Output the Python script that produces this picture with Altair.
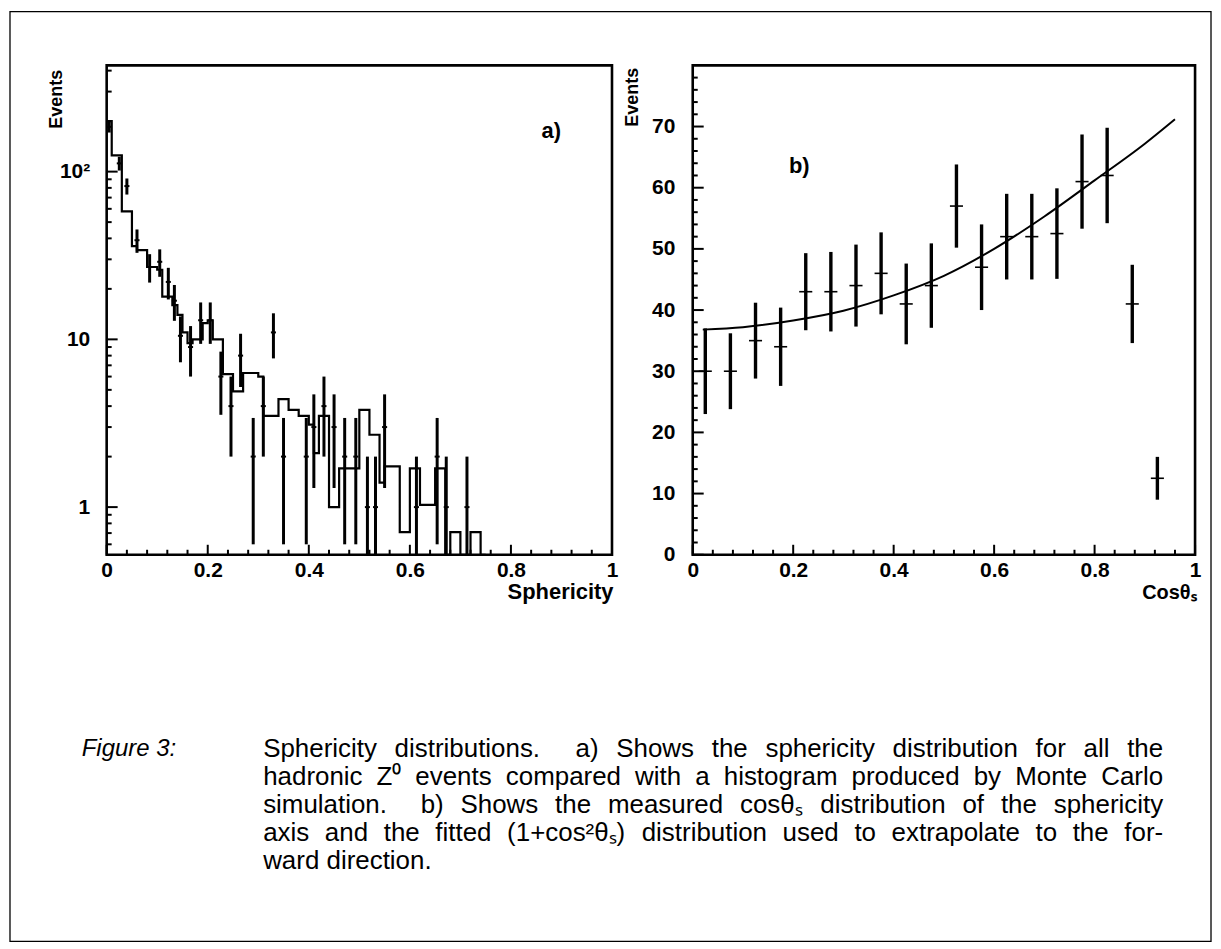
import re
import altair as alt
import pandas as pd

# ---------------- Panel a: sphericity ----------------
# Monte Carlo histogram, bin width 0.01 starting at 0
MC_BIN_WIDTH = 0.01
MC_COUNTS = [200, 125, 125, 58, 58, 36, 34, 34, 27, 27,
             26, 18, 18, 16, 14, 11, 9.5, 10, 10, 12.5,
             13, 10, 10, 6.2, 6.2, 4.9, 4.9, 6.3, 6.3, 6.3,
             6.0, 3.5, 3.5, 3.5, 4.4, 4.4, 3.8, 3.8, 3.5, 3.5,
             3.1, 2.1, 3.5, 3.5, 1.0, 1.0, 1.7, 1.7, 1.7, 1.7,
             3.8, 3.8, 2.7, 2.7, 1.4, 1.75, 1.75, 1.75, 0.71, 0.71,
             1.7, 1.7, 1.03, 1.03, 1.03, 1.7, 1.7, 0, 0.71, 0.71,
             0, 0, 0.71, 0.71, 0]

# measured points (sphericity, events, error)
SPH_X = [0.005, 0.025, 0.04, 0.06, 0.085, 0.105, 0.122, 0.134, 0.146, 0.166,
         0.186, 0.205, 0.226, 0.246, 0.265, 0.29, 0.31, 0.33, 0.35, 0.395,
         0.41, 0.43, 0.45, 0.471, 0.493, 0.516, 0.532, 0.55, 0.613, 0.654,
         0.672, 0.713]
SPH_N = [185, 112, 82, 39, 27, 29, 22, 17, 10.5, 9,
         13, 13, 6, 4, 8, 2, 4, 11, 2, 2,
         3, 4, 3, 2, 2, 1, 1, 3, 1, 2,
         1, 1]
SPH_ERR = [14, 10.5, 9, 6.2, 5.2, 5.4, 4.7, 4.1, 3.2, 3.0,
           3.6, 3.6, 2.45, 2.0, 2.8, 1.4, 2.0, 3.3, 1.4, 1.4,
           1.7, 2.0, 1.7, 1.4, 1.4, 1.0, 1.0, 1.7, 1.0, 1.4,
           1.0, 1.0]

# ---------------- Panel b: cos(theta_s) ----------------
COS_X = [0.025, 0.075, 0.125, 0.175, 0.225, 0.275, 0.325, 0.375, 0.425, 0.475,
         0.525, 0.575, 0.625, 0.675, 0.725, 0.775, 0.825, 0.875, 0.925]
COS_N = [30, 30, 35, 34, 43, 43, 44, 46, 41, 44,
         57, 47, 52, 52, 52.5, 61, 62, 41, 12.5]
COS_ERR = [7.0, 6.2, 6.2, 6.4, 6.3, 6.5, 6.7, 6.7, 6.6, 6.9,
           6.8, 7.0, 7.0, 7.0, 7.4, 7.7, 7.8, 6.4, 3.5]

# fitted (1 + cos^2) curve
FIT_X = [0.02, 0.1, 0.2, 0.3, 0.4, 0.5, 0.6, 0.7, 0.8, 0.9, 0.96]
FIT_Y = [36.8, 37.2, 38.3, 39.9, 42.4, 45.6, 50.0, 55.3, 61.2, 67.2, 71.2]

# axis tick values
X_MAJOR = [0, 0.2, 0.4, 0.6, 0.8, 1]
X_MINOR = [0.04, 0.08, 0.12, 0.16, 0.24, 0.28, 0.32, 0.36, 0.44, 0.48, 0.52, 0.56,
           0.64, 0.68, 0.72, 0.76, 0.84, 0.88, 0.92, 0.96]
YA_MAJOR = [1, 10, 100]
YA_MINOR = [0.6, 0.7, 0.8, 0.9, 2, 3, 4, 5, 6, 7, 8, 9,
            20, 30, 40, 50, 60, 70, 80, 90, 200, 300, 400]
YB_MAJOR = [0, 10, 20, 30, 40, 50, 60, 70]
YB_MINOR = [2, 4, 6, 8, 12, 14, 16, 18, 22, 24, 26, 28, 32, 34, 36, 38, 42, 44, 46, 48,
            52, 54, 56, 58, 62, 64, 66, 68, 72, 74, 76, 78]

CAPTION_LABEL = "Figure 3:"
CAPTION_LINES = [
    "Sphericity distributions.  a) Shows the sphericity distribution for all the",
    "hadronic Z\u2070 events compared with a histogram produced by Monte Carlo",
    "simulation.  b) Shows the measured cos\u03b8\u209b distribution of the sphericity",
    "axis and the fitted (1+cos\u00b2\u03b8\u209b) distribution used to extrapolate to the for-",
    "ward direction.",
]
CAPTION_JUSTIFY = [True, True, True, True, False]

# ---------------- layout ----------------
FONT = "Liberation Sans"
W_A, W_B, H = 507, 504, 491
GAP = 81
YMIN_A, YMAX_A = 0.52, 430
YMAX_B = 80

CAP_FS = 26
CAP_LEFT, CAP_RIGHT = 157, 1060     # relative to panel a origin
CAP_TOP, CAP_LEAD = 686, 28
CHAR_W = {' ': 278, 'a': 556, 'b': 556, 'c': 500, 'd': 556, 'e': 556, 'f': 278, 'g': 556,
          'h': 556, 'i': 222, 'j': 222, 'k': 500, 'l': 222, 'm': 833, 'n': 556, 'o': 556,
          'p': 556, 'q': 556, 'r': 333, 's': 500, 't': 278, 'u': 556, 'v': 500, 'w': 722,
          'x': 500, 'y': 500, 'z': 500, 'S': 667, 'Z': 611, 'M': 833, 'C': 722, 'F': 611,
          '.': 278, ')': 333, '(': 333, '1': 556, '+': 584, '\u00b2': 333, '\u03b8': 556,
          '\u209b': 340, '\u2070': 340, '-': 333, ':': 278, '3': 556}


def text_width(s, size):
    return sum(CHAR_W.get(ch, 556) for ch in s) * size / 1000.0


cap_rows = []
for i, (line, just) in enumerate(zip(CAPTION_LINES, CAPTION_JUSTIFY)):
    parts = re.split(r'( +)', line)
    words = parts[0::2]
    gaps = [len(g) for g in parts[1::2]]
    natural = sum(text_width(w, CAP_FS) for w in words)
    if just and gaps:
        unit = (CAP_RIGHT - CAP_LEFT - natural) / sum(gaps)
    else:
        unit = CHAR_W[' '] * CAP_FS / 1000.0
    x = CAP_LEFT
    for j, w in enumerate(words):
        cap_rows.append({'px': x, 'py': CAP_TOP + i * CAP_LEAD, 'w': w})
        x += text_width(w, CAP_FS) + (gaps[j] * unit if j < len(gaps) else 0)
cap_df = pd.DataFrame(cap_rows)

# ---------------- data frames ----------------
mc_x = [round(i * MC_BIN_WIDTH, 3) for i in range(len(MC_COUNTS) + 1)]
mc_y = [max(c, YMIN_A) for c in MC_COUNTS] + [YMIN_A]
mc_df = pd.DataFrame({'x': mc_x, 'y': mc_y})

pa = pd.DataFrame({'x': SPH_X, 'n': SPH_N, 'e': SPH_ERR})
pa['lo'] = [max(n - e, YMIN_A) for n, e in zip(pa['n'], pa['e'])]
pa['hi'] = pa['n'] + pa['e']
pa['xl'] = pa['x'] - 0.005
pa['xr'] = pa['x'] + 0.005

pb = pd.DataFrame({'x': COS_X, 'n': COS_N, 'e': COS_ERR})
pb['lo'] = pb['n'] - pb['e']
pb['hi'] = pb['n'] + pb['e']
pb['xl'] = pb['x'] - 0.013
pb['xr'] = pb['x'] + 0.013

fit_df = pd.DataFrame({'x': FIT_X, 'y': FIT_Y})

# ---------------- scales & axes ----------------
x_scale = alt.Scale(domain=[0, 1], nice=False, zero=False)
ya_scale = alt.Scale(type='log', domain=[YMIN_A, YMAX_A], nice=False)
yb_scale = alt.Scale(domain=[0, YMAX_B], nice=False, zero=True)

LABEL_STYLE = dict(labelFont=FONT, labelFontSize=21, labelFontWeight='bold',
                   labelColor='black', labelOverlap=False, ticks=False,
                   domain=False, grid=False)
TITLE_STYLE = dict(titleFont=FONT, titleFontWeight='bold', titleColor='black')


def x_axis(title, width, size):
    return alt.Axis(values=X_MAJOR,
                    labelExpr="datum.value == 0 ? '0' : datum.value == 1 ? '1' : format(datum.value, '.1f')",
                    labelPadding=5, labelFlush=False,
                    title=title, titleFontSize=size, titleAlign='right', titleAnchor='end',
                    titleX=width + 1, titleY=44, titleBaseline='alphabetic',
                    **LABEL_STYLE, **TITLE_STYLE)


ax_xa = x_axis('Sphericity', W_A, 22)
ax_xb = x_axis('Cos\u03b8\u209b', W_B, 20)
ax_ya = alt.Axis(values=YA_MAJOR,
                 labelExpr="datum.value >= 100 ? '10\u00b2' : format(datum.value, 'd')",
                 labelPadding=17, title='Events', titleFontSize=18, titleAngle=270,
                 titleAlign='right', titleBaseline='alphabetic', titleX=-45, titleY=4,
                 **LABEL_STYLE, **TITLE_STYLE)
ax_yb = alt.Axis(values=YB_MAJOR, labelPadding=18, title='Events', titleFontSize=18,
                 titleAngle=270, titleAlign='right', titleBaseline='alphabetic',
                 titleX=-55, titleY=2, **LABEL_STYLE, **TITLE_STYLE)


def ticks_x(values, length, ax):
    return alt.Chart(pd.DataFrame({'v': values})).mark_rule(color='black', strokeWidth=2).encode(
        x=alt.X('v:Q', scale=x_scale, axis=ax), y=alt.value(H), y2=alt.value(H - length))


def ticks_y(values, length, scale, ax):
    return alt.Chart(pd.DataFrame({'v': values})).mark_rule(color='black', strokeWidth=2).encode(
        y=alt.Y('v:Q', scale=scale, axis=ax), x=alt.value(0), x2=alt.value(length))


# ---------------- panel a ----------------
a_hist = alt.Chart(mc_df).mark_line(interpolate='step-after', color='black', strokeWidth=2.2).encode(
    x=alt.X('x:Q', scale=x_scale, axis=ax_xa), y=alt.Y('y:Q', scale=ya_scale, axis=ax_ya))
a_err = alt.Chart(pa).mark_rule(color='black', strokeWidth=3).encode(
    x=alt.X('x:Q', scale=x_scale, axis=ax_xa), y=alt.Y('lo:Q', scale=ya_scale, axis=ax_ya), y2='hi:Q')
a_cen = alt.Chart(pa).mark_rule(color='black', strokeWidth=2).encode(
    x=alt.X('xl:Q', scale=x_scale, axis=ax_xa), x2='xr:Q', y=alt.Y('n:Q', scale=ya_scale, axis=ax_ya))
a_lab = alt.Chart(pd.DataFrame({'x': [0.88], 'y': [175], 't': ['a)']})).mark_text(
    font=FONT, fontSize=22, fontWeight='bold', color='black').encode(
    x=alt.X('x:Q', scale=x_scale, axis=ax_xa), y=alt.Y('y:Q', scale=ya_scale, axis=ax_ya), text='t:N')

cap_words = alt.Chart(cap_df).mark_text(font=FONT, fontSize=CAP_FS, align='left', baseline='middle',
                                        color='black').encode(
    x=alt.X('px:Q', scale=None, axis=None), y=alt.Y('py:Q', scale=None, axis=None), text='w:N')
cap_label = alt.Chart(pd.DataFrame({'t': [CAPTION_LABEL]})).mark_text(
    font=FONT, fontSize=24, fontStyle='italic', align='left', baseline='middle', color='black').encode(
    x=alt.value(-25), y=alt.value(CAP_TOP), text='t:N')
outer = alt.Chart(pd.DataFrame({'k': [0]})).mark_rect(filled=False, stroke='black', strokeWidth=1.3).encode(
    x=alt.value(-97), x2=alt.value(1108), y=alt.value(-54), y2=alt.value(879))

panel_a = alt.layer(
    a_hist, a_err, a_cen, a_lab,
    ticks_x(X_MAJOR, 10, ax_xa), ticks_x(X_MINOR, 5, ax_xa),
    ticks_y(YA_MAJOR, 11, ya_scale, ax_ya), ticks_y(YA_MINOR, 5, ya_scale, ax_ya),
    cap_words, cap_label, outer,
).properties(width=W_A, height=H)

# ---------------- panel b ----------------
b_fit = alt.Chart(fit_df).mark_line(interpolate='monotone', color='black', strokeWidth=2).encode(
    x=alt.X('x:Q', scale=x_scale, axis=ax_xb), y=alt.Y('y:Q', scale=yb_scale, axis=ax_yb))
b_err = alt.Chart(pb).mark_rule(color='black', strokeWidth=3.4).encode(
    x=alt.X('x:Q', scale=x_scale, axis=ax_xb), y=alt.Y('lo:Q', scale=yb_scale, axis=ax_yb), y2='hi:Q')
b_cen = alt.Chart(pb).mark_rule(color='black', strokeWidth=1.6).encode(
    x=alt.X('xl:Q', scale=x_scale, axis=ax_xb), x2='xr:Q', y=alt.Y('n:Q', scale=yb_scale, axis=ax_yb))
b_lab = alt.Chart(pd.DataFrame({'x': [0.212], 'y': [63.5], 't': ['b)']})).mark_text(
    font=FONT, fontSize=22, fontWeight='bold', color='black').encode(
    x=alt.X('x:Q', scale=x_scale, axis=ax_xb), y=alt.Y('y:Q', scale=yb_scale, axis=ax_yb), text='t:N')

panel_b = alt.layer(
    b_fit, b_err, b_cen, b_lab,
    ticks_x(X_MAJOR, 10, ax_xb), ticks_x(X_MINOR, 5, ax_xb),
    ticks_y(YB_MAJOR, 11, yb_scale, ax_yb), ticks_y(YB_MINOR, 5, yb_scale, ax_yb),
).properties(width=W_B, height=H)

chart = alt.hconcat(panel_a, panel_b, spacing=GAP, bounds='flush').properties(
    padding=0, background='white'
).configure_view(stroke='black', strokeWidth=2.6)

chart.save("out.html", embed_options={"renderer": "svg", "actions": False})
